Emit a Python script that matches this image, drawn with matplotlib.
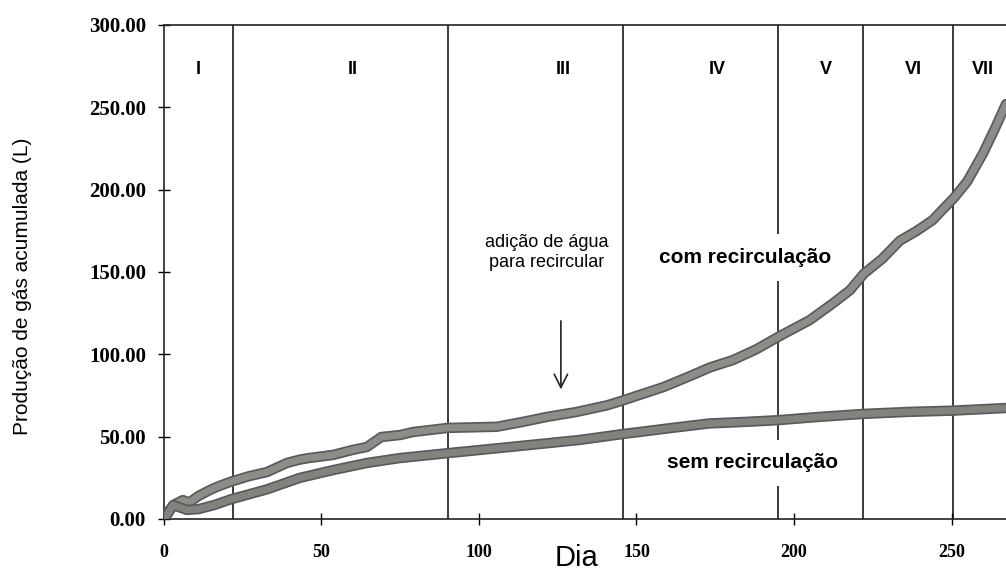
import matplotlib.pyplot as plt
import matplotlib.patheffects as pe

# cumulative gas production (L)
com_dia = [0, 2, 3.5, 6, 8, 11, 14.6, 16.8, 21.3, 27, 32.7, 39, 43, 46, 53.7, 60, 64.4, 69, 75, 79,
           90, 105.7, 114, 121.6, 131, 140.6, 145.7, 152, 158.4, 166, 173.3, 180.6, 188, 194.9,
           205, 212.4, 217.8, 222.2, 228, 233.6, 239, 244, 251, 255, 260, 264, 267.3]
com_gas = [0, 6, 9, 11.5, 10, 14, 17.6, 19.5, 22.7, 26, 28.5, 34, 36, 37, 38.9, 42, 43.7, 49.8, 51,
           52.8, 55.3, 56, 59, 62, 65, 69, 72, 76, 80, 86, 92, 96.5, 103, 110.5, 120.8, 131, 139,
           149, 158, 169, 175, 181.5, 195.5, 205, 222, 238, 252]
sem_dia = [0, 1.5, 2.9, 5, 7.3, 11, 16, 21.3, 27, 32.7, 43.2, 53.7, 64.4, 74.9, 90.2, 110.8, 132,
           145.7, 160, 173, 185, 194.9, 208, 221.9, 236, 250.5, 267.3]
sem_gas = [0, 4, 8.5, 7, 5.5, 6, 8.5, 12, 15, 18, 25, 29.7, 34, 37, 40, 43.9, 48, 51.6, 55, 58, 59,
           60, 62, 63.8, 65, 65.8, 67.4]

fases = [21.9, 90.2, 145.7, 194.9, 221.9, 250.5]
fase_nomes = ["I", "II", "III", "IV", "V", "VI", "VII"]
fase_x = [10.8, 60, 126.7, 175.5, 210, 237.8, 260]

y_ticks = [0, 50, 100, 150, 200, 250, 300]
x_ticks = [0, 50, 100, 150, 200, 250]

sans = ["Liberation Sans", "DejaVu Sans"]

fig = plt.figure(figsize=(10.06, 5.72), dpi=100)
ax = fig.add_axes([0.163, 0.0927, 0.837, 0.8636])
ax.set_xlim(0, 267.3)
ax.set_ylim(0, 300)

for x in fases:
    ax.axvline(x, color="#1a1a1a", lw=1.2, zorder=1)

stroke = [pe.Stroke(linewidth=7.5, foreground="#5a5a5a"), pe.Normal()]
ax.plot(com_dia, com_gas, color="#8c8c88", lw=5.0, solid_capstyle="round", path_effects=stroke, zorder=3)
ax.plot(sem_dia, sem_gas, color="#82827e", lw=5.0, solid_capstyle="round", path_effects=stroke, zorder=3)

for nome, x in zip(fase_nomes, fase_x):
    ax.text(x, 273, nome, ha="center", va="center", fontsize=13, fontweight="bold", family=sans)

ax.text(121.6, 162, "adição de água\npara recircular", ha="center", va="center", fontsize=13,
        family=sans, linespacing=1.25)
ax.annotate("", xy=(126, 77), xytext=(126, 122),
            arrowprops=dict(arrowstyle="->", lw=1.2, color="#222222", mutation_scale=24))
box = dict(facecolor="white", edgecolor="none", pad=10)
ax.text(184.4, 159, "com recirculação", ha="center", va="center", fontsize=15, fontweight="bold",
        family=sans, bbox=box, zorder=2)
ax.text(186.7, 34, "sem recirculação", ha="center", va="center", fontsize=15, fontweight="bold",
        family=sans, bbox=box, zorder=2)

ax.spines["right"].set_visible(False)
for s in ["left", "bottom", "top"]:
    ax.spines[s].set_linewidth(1.2)
    ax.spines[s].set_color("#222222")

ax.set_yticks(y_ticks)
ax.set_yticklabels([f"{v:.2f}" for v in y_ticks], family="Liberation Serif", fontweight="bold", fontsize=15)
ax.set_xticks(x_ticks)
ax.set_xticklabels([str(v) for v in x_ticks], family="Liberation Serif", fontweight="bold", fontsize=13)
ax.tick_params(axis="y", direction="inout", length=8, width=1, pad=9)
ax.tick_params(axis="x", direction="inout", length=8, width=1, pad=14)

ax.set_ylabel("Produção de gás acumulada (L)", fontsize=15, family=sans)
ax.yaxis.set_label_coords(-0.168, 0.47)
ax.yaxis.label.set_va("center")
ax.set_xlabel("Dia", fontsize=21, family=sans)
ax.xaxis.set_label_coords(0.4905, -0.079)
ax.xaxis.label.set_va("center")

fig.savefig("out.png", dpi=100)
